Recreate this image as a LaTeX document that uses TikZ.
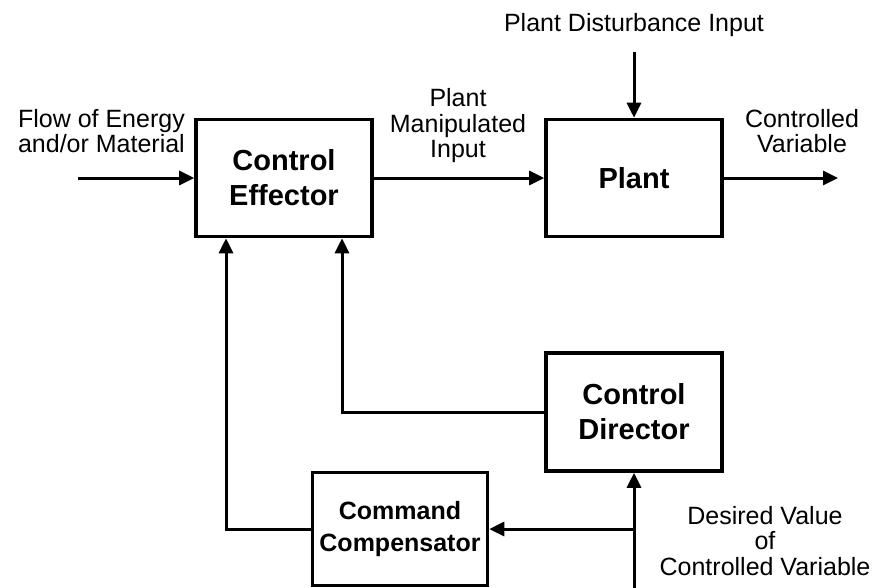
\documentclass[tikz,border=0pt]{standalone}
\usepackage{fontspec}
\setmainfont{Liberation Sans}
\usetikzlibrary{arrows.meta,positioning}

\begin{document}
\begin{tikzpicture}[x=1pt,y=-1pt,
  blk/.style={draw,line width=3.6pt,minimum width=176pt,minimum height=117pt,
    inner sep=0pt,align=center,font=\fontsize{29}{35}\selectfont\bfseries},
  lbl/.style={align=center,inner sep=0pt,font=\fontsize{25}{25.5}\selectfont},
  flow/.style={line width=3pt,-{Triangle[length=15pt,width=14pt]}}]

\useasboundingbox (0,0) rectangle (878,587);

% ===================== Forward path =====================
\node[blk] (eff)   at (284,178) {Control\\Effector};
\node[blk] (plant) at (634,178) {Plant};

\coordinate (inflow) at (78,178);
\coordinate (out)    at (838,178);
\coordinate (dist)   at (634,52);

\draw[flow] (inflow) -- (eff.west);
\draw[flow] (eff.east) -- (plant.west);
\draw[flow] (plant.east) -- (out);
\draw[flow] (dist) -- (plant.north);

\node[lbl,anchor=east,align=right] (flowlbl) at (185,131) {Flow of Energy\\and/or Material};
\node[lbl] (manlbl)  at (458,126) {Plant\\Manipulated\\Input};
\node[lbl] (cvlbl)   at (802,131) {Controlled\\Variable};
\node[lbl] (distlbl) at (634,25)  {Plant Disturbance Input};

% ===================== Feedback / command path =====================
\node[blk,minimum height=118pt] (dir) at (634,412) {Control\\Director};
\node[blk,minimum width=175pt,minimum height=113pt,
  font=\fontsize{25}{32}\selectfont\bfseries] (comp) at (400,529) {Command\\Compensator};

\coordinate (setp) at (634,590);
\coordinate (tap)  at (634,529);

\draw[flow] (dir.west) -| ([xshift=58pt]eff.south);
\draw[flow] (comp.west) -| ([xshift=-58pt]eff.south);
\draw[flow] (setp) -- (dir.south);
\draw[flow] (tap) -- (comp.east);

\node[lbl] (dvlbl) at (765,541) {Desired Value\\of\\Controlled Variable};

\end{tikzpicture}
\end{document}
